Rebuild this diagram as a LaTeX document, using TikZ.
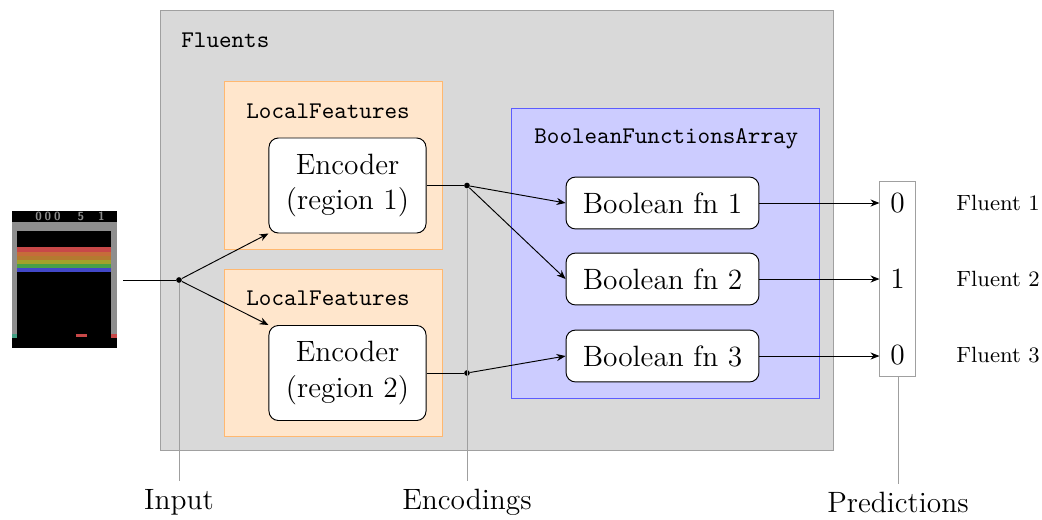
\documentclass[tikz,border=0pt]{standalone}
\usetikzlibrary{arrows.meta}
\definecolor{flfill}{HTML}{D9D9D9}
\definecolor{flline}{HTML}{A0A0A0}
\definecolor{lffill}{HTML}{FFE6CC}
\definecolor{lfline}{HTML}{FFB870}
\definecolor{bffill}{HTML}{CCCCFF}
\definecolor{bfline}{HTML}{5C5CFF}
\definecolor{brRed}{RGB}{200,72,72}
\definecolor{brOrange}{RGB}{198,108,58}
\definecolor{brBrown}{RGB}{180,122,48}
\definecolor{brYellow}{RGB}{162,162,42}
\definecolor{brGreen}{RGB}{72,160,72}
\definecolor{brBlue}{RGB}{66,72,200}
\definecolor{brTeal}{RGB}{66,158,130}
\definecolor{brWall}{RGB}{142,142,142}
\begin{document}
\begin{tikzpicture}[x=0.422pt,y=-0.422pt,
  box/.style={draw, rectangle, inner sep=0pt},
  fluentsbox/.style={box, draw=flline, fill=flfill, minimum width=284pt, minimum height=185.7pt},
  lfbox/.style={box, draw=lfline, fill=lffill, minimum width=92pt, minimum height=70.7pt},
  bfabox/.style={box, draw=bfline, fill=bffill, minimum width=129.6pt, minimum height=122pt},
  encbox/.style={draw, fill=white, rounded corners=4pt, align=center, font=\fontsize{12.4}{15}\selectfont, minimum width=66.3pt, minimum height=40.1pt},
  boolbox/.style={draw, fill=white, rounded corners=4pt, font=\fontsize{12.4}{15}\selectfont, minimum width=81.4pt, minimum height=21.9pt},
  predbox/.style={box, draw=flline, fill=white, minimum width=14.8pt, minimum height=81.9pt},
  ttlabel/.style={anchor=west, font=\fontsize{10.1}{12}\selectfont\ttfamily},
  dotnode/.style={circle, fill=black, inner sep=0pt, minimum size=2.4pt},
  conn/.style={-{Stealth[length=3.8pt,width=3pt]}},
  guide/.style={draw=gray!75},
  bottomlabel/.style={anchor=north, font=\fontsize{12.4}{15}\selectfont},
  predval/.style={font=\fontsize{12.4}{15}\selectfont},
  fluentlab/.style={anchor=west, font=\fontsize{9.3}{11}\selectfont},
  score/.style={text=brWall, font=\fontsize{5}{5}\selectfont\sffamily\bfseries, inner sep=0pt}
]
\useasboundingbox (0,0) rectangle (1042,519);

% containers
\node[fluentsbox] (fluents) at (496.5,230) {};
\node[ttlabel] (fltitle) at (173,40) {Fluents};
\node[lfbox] (lf1) at (333,165.5) {};
\node[ttlabel] (lf1title) at (238,111) {LocalFeatures};
\node[lfbox] (lf2) at (333,353) {};
\node[ttlabel] (lf2title) at (238,298) {LocalFeatures};
\node[bfabox] (bfa) at (665.5,253.5) {};
\node[ttlabel] (bfatitle) at (526,139) {BooleanFunctionsArray};

% encoders and boolean functions
\node[encbox] (enc1) at (347.5,185.5) {Encoder\\(region 1)};
\node[encbox] (enc2) at (347.5,373) {Encoder\\(region 2)};
\node[boolbox] (b1) at (662.5,203) {Boolean fn 1};
\node[boolbox] (b2) at (662.5,279) {Boolean fn 2};
\node[boolbox] (b3) at (662.5,356) {Boolean fn 3};

% predictions
\node[predbox] (pred) at (897.5,279) {};
\node[predval] (p1) at (897.5,203) {0};
\node[predval] (p2) at (897.5,279) {1};
\node[predval] (p3) at (897.5,355) {0};
\node[fluentlab] (f1) at (948,203) {Fluent 1};
\node[fluentlab] (f2) at (948,279) {Fluent 2};
\node[fluentlab] (f3) at (948,355) {Fluent 3};

% breakout frame
\fill[black] (12,211) rectangle (117,348);
\fill[brWall] (12,222) rectangle (117,231);
\fill[brWall] (12,231) rectangle (17,338);
\fill[brWall] (111,231) rectangle (117,338);
\fill[brRed] (17,247) rectangle (111,251.5);
\fill[brOrange] (17,251.5) rectangle (111,255.5);
\fill[brBrown] (17,255.5) rectangle (111,259.5);
\fill[brYellow] (17,259.5) rectangle (111,263.5);
\fill[brGreen] (17,263.5) rectangle (111,267.5);
\fill[brBlue] (17,267.5) rectangle (111,272);
\fill[brTeal] (12,334) rectangle (17,338);
\fill[brRed] (111,334) rectangle (117,338);
\fill[brRed] (76,334) rectangle (87,337);
\node[score] (sc1) at (48,216.5) {0\hspace{1.2pt}0\hspace{1.2pt}0};
\node[score] (sc2) at (81,216.5) {5};
\node[score] (sc3) at (101.5,216.5) {1};

% junctions
\coordinate (inp) at (123,280);
\node[dotnode] (dIn) at (179,280) {};
\node[dotnode] (dE1) at (467,185.5) {};
\node[dotnode] (dE2) at (467,373) {};

% bottom labels
\node[bottomlabel] (lInput) at (179,481) {Input};
\node[bottomlabel] (lEnc) at (467,481) {Encodings};
\node[bottomlabel] (lPred) at (898,484) {Predictions};

% guides
\draw[guide] (dIn) -- (lInput.north);
\draw[guide] (dE1) -- (lEnc.north);
\draw[guide] (pred.south -| lPred.north) -- (lPred.north);

% connectors
\draw (inp) -- (dIn);
\draw[conn] (dIn) -- (enc1.south west);
\draw[conn] (dIn) -- (enc2.north west);
\draw (enc1.east) -- (dE1);
\draw (enc2.east) -- (dE2);
\draw[conn] (dE1) -- (b1.west);
\draw[conn] (dE1) -- (b2.west);
\draw[conn] (dE2) -- (b3.west);
\draw[conn] (b1.east) -- (pred.west |- b1.east);
\draw[conn] (b2.east) -- (pred.west |- b2.east);
\draw[conn] (b3.east) -- (pred.west |- b3.east);
\end{tikzpicture}
\end{document}
